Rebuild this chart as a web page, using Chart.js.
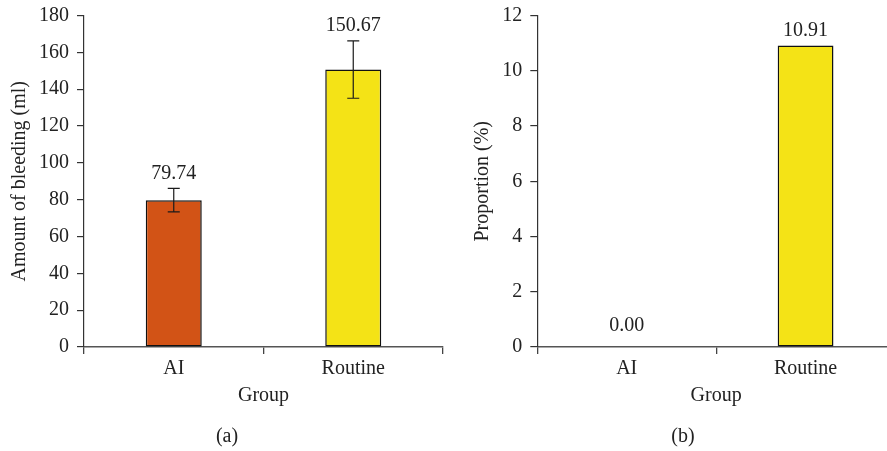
<!DOCTYPE html>
<html>
<head>
<meta charset="utf-8">
<script src="https://cdn.jsdelivr.net/npm/chart.js@4/dist/chart.umd.min.js"></script>
<style>
  html, body { margin: 0; padding: 0; background: #fff; overflow: hidden; width: 887px; height: 451px; position: relative; }
  canvas { position: absolute; top: 0; }
  #chart-a { left: 0; }
  #chart-b { left: 443px; }
  .cap { position: absolute; top: 423px; font: 20px 'Liberation Serif', serif; color: #222; line-height: 24px; transform: translateX(-50%); }
</style>
</head>
<body>
<canvas id="chart-a" width="454" height="451"></canvas>
<canvas id="chart-b" width="480" height="451"></canvas>
<div class="cap" style="left:227px">(a)</div>
<div class="cap" style="left:683px">(b)</div>
<script>
const groups = ['AI', 'Routine'];
const barColors = ['#D25316', '#F4E316'];

const bleedingMeans = [79.74, 150.67];
const bleedingErrors = [6.4, 15.6];
const bleedingMax = 180;
const bleedingStep = 20;

const proportionValues = [0.00, 10.91];
const proportionErrors = [0, 0];
const proportionMax = 12;
const proportionStep = 2;

const serif = "'Liberation Serif', 'Times New Roman', serif";
const textColor = '#222';

// error bars + value labels on top of each bar
const barAnnotations = {
  id: 'barAnnotations',
  afterDatasetsDraw(chart, args, opts) {
    const { ctx } = chart;
    const meta = chart.getDatasetMeta(0);
    const yScale = chart.scales.y;
    const values = chart.data.datasets[0].data;
    const errors = opts.errors || [];
    ctx.save();
    meta.data.forEach((bar, i) => {
      const v = values[i];
      const e = errors[i] || 0;
      const x = bar.x;
      let topY = yScale.getPixelForValue(v);
      if (e > 0) {
        const yHi = yScale.getPixelForValue(v + e);
        const yLo = yScale.getPixelForValue(v - e);
        ctx.strokeStyle = '#1a1a1a';
        ctx.lineWidth = 1.2;
        ctx.beginPath();
        ctx.moveTo(x, yHi); ctx.lineTo(x, yLo);
        ctx.moveTo(x - 6, yHi); ctx.lineTo(x + 6, yHi);
        ctx.moveTo(x - 6, yLo); ctx.lineTo(x + 6, yLo);
        ctx.stroke();
        topY = yHi;
      }
      ctx.fillStyle = textColor;
      ctx.font = '20px ' + serif;
      ctx.textAlign = 'center';
      ctx.textBaseline = 'middle';
      ctx.fillText(v.toFixed(2), x, topY - (v === 0 ? 21 : 15));
    });
    ctx.restore();
  },
};

function makeChart(canvasId, values, errors, yMax, yStep, yTitle, layout) {
  return new Chart(document.getElementById(canvasId), {
    type: 'bar',
    data: {
      labels: groups,
      datasets: [{
        data: values,
        backgroundColor: barColors,
        borderColor: '#111',
        borderWidth: 1.5,
        borderSkipped: false,
        barPercentage: 0.312,
        categoryPercentage: 1,
      }],
    },
    options: {
      responsive: false,
      animation: false,
      layout: { padding: layout.padding },
      plugins: {
        legend: { display: false },
        tooltip: { enabled: false },
        barAnnotations: { errors },
      },
      scales: {
        x: {
          afterFit: (scale) => { scale.height = 76; },
          grid: { drawOnChartArea: false, offset: true, tickLength: 7, color: '#444', lineWidth: 1.3 },
          border: { color: '#555', width: 1.5 },
          ticks: { color: textColor, font: { family: serif, size: 20 }, padding: 3 },
          title: { display: true, text: 'Group', color: textColor, font: { family: serif, size: 20 }, padding: { top: 0, bottom: 15 } },
        },
        y: {
          min: 0,
          max: yMax,
          afterFit: (scale) => {
            scale.width = layout.yWidth;
            scale.paddingTop = 0;
            scale.paddingBottom = 0;
          },
          grid: { drawOnChartArea: false, tickLength: 7, color: '#333', lineWidth: 1.2 },
          border: { color: '#333', width: 1.2 },
          ticks: { stepSize: yStep, color: textColor, font: { family: serif, size: 20 }, padding: 8 },
          title: { display: true, text: yTitle, color: textColor, font: { family: serif, size: 20 }, padding: { top: layout.yTitlePad, bottom: 0 } },
        },
      },
    },
    plugins: [barAnnotations],
  });
}

makeChart('chart-a', bleedingMeans, bleedingErrors, bleedingMax, bleedingStep, 'Amount of bleeding (ml)', {
  padding: { top: 15.5, left: 0, right: 11, bottom: 28 },
  yWidth: 84,
  yTitlePad: 8,
});

makeChart('chart-b', proportionValues, proportionErrors, proportionMax, proportionStep, 'Proportion (%)', {
  padding: { top: 15.5, left: 0, right: 28, bottom: 28 },
  yWidth: 94.3,
  yTitlePad: 27.7,
});
</script>
</body>
</html>
